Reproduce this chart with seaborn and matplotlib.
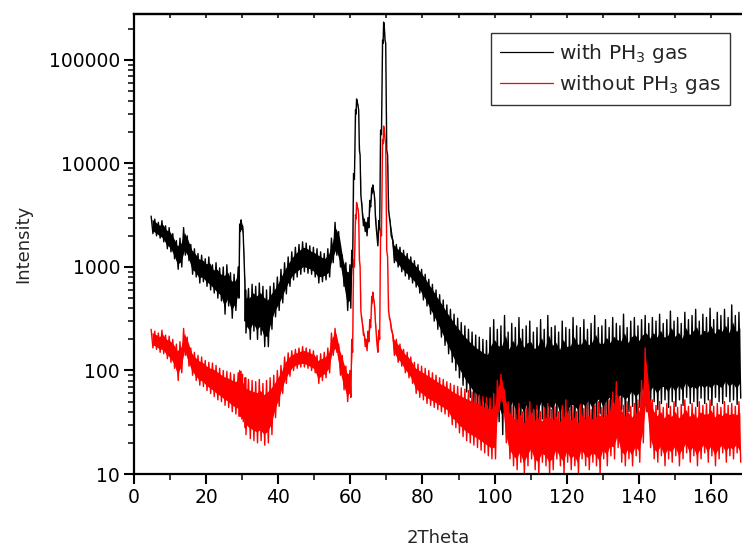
import numpy as np
import pandas as pd
import matplotlib
matplotlib.use("Agg")
import matplotlib.pyplot as plt
import seaborn as sns
from matplotlib.lines import Line2D
from matplotlib.ticker import FixedLocator, LogLocator, FuncFormatter, NullFormatter, MultipleLocator

# ---------------- data ----------------
# 2Theta sample positions (denser around the sharp peaks)
two_theta = (list(range(5, 29))
             + [29.0, 29.4, 29.8, 30.2, 30.8]
             + list(range(31, 61))
             + [60.5, 61.0, 61.5, 61.8, 62.2, 62.6, 63.0, 63.5, 64.0, 64.5, 65.0, 65.5,
                66.0, 66.3, 66.7, 67.0, 67.5, 68.0, 68.5, 69.0, 69.3, 69.7, 70.2, 70.7, 71.2]
             + list(range(72, 169)))

# upper / lower envelope of the noisy intensity, "with PH3 gas"
with_hi = ([3100, 2900, 2700, 2800, 2500, 2400, 2100, 1800, 1900, 2400, 2000, 1650,
            1500, 1350, 1300, 1200, 1250, 1050, 1100, 980, 1000, 1050, 880, 850]
           + [1000, 2600, 2850, 2500, 700]
           + [600, 620, 680, 650, 700, 650, 600, 650, 700, 800, 950, 1100, 1250, 1400, 1550,
              1650, 1750, 1700, 1600, 1550, 1500, 1400, 1350, 1500, 1900, 2700, 2200, 1300, 1100, 1050]
           + [1450, 8000, 33000, 42000, 36000, 13500, 5000, 3200, 2900, 2700, 3000, 4400,
              5800, 6200, 5000, 3200, 2000, 2800, 21000, 155000, 232000, 155000, 13500, 3600, 2600]
           + [1800, 1650, 1550, 1450, 1350, 1250, 1150, 1050, 950, 850, 760, 680, 600, 540,
              480, 430, 390, 350, 320, 290, 270, 250, 235, 220, 210, 200, 195]
           + [260, 310, 250, 270, 340, 235, 285, 260, 325, 250,
              270, 300, 235, 260, 310, 250, 340, 260, 270, 235,
              300, 260, 250, 325, 270, 260, 310, 250, 285, 340,
              260, 270, 310, 260, 325, 285, 270, 350, 260, 300,
              325, 270, 310, 340, 285, 325, 300, 350, 285, 310,
              375, 300, 325, 285, 365, 310, 340, 390, 300, 350,
              325, 400, 310, 365, 340, 390, 325, 430, 340, 365])
with_lo = ([2100, 2000, 1900, 1750, 1500, 1400, 1200, 950, 1000, 1300, 1150, 850,
            800, 700, 720, 650, 600, 560, 500, 470, 350, 420, 320, 380]
           + [500, 2200, 2300, 2000, 300]
           + [230, 200, 240, 200, 220, 170, 170, 250, 330, 380, 450, 550, 650, 750, 800,
              850, 900, 870, 850, 800, 700, 720, 750, 800, 1100, 1300, 1000, 650, 380, 400]
           + [1000, 7000, 30000, 40000, 33000, 12000, 4200, 2500, 2200, 2000, 2400, 3800,
              5200, 5600, 4300, 2600, 1600, 2300, 19000, 145000, 220000, 145000, 12000, 3000, 2000]
           + [1100, 1000, 900, 820, 760, 700, 640, 560, 480, 420, 350, 300, 250, 210,
              175, 145, 120, 100, 85, 72, 62, 55, 48, 44, 40, 37, 34]
           + [30, 26, 32, 24, 30, 28, 35, 25, 30, 27,
              33, 24, 30, 28, 34, 26, 30, 29, 35, 27,
              31, 25, 33, 30, 28, 34, 30, 36, 29, 33,
              38, 30, 35, 40, 32, 38, 42, 35, 40, 45,
              38, 44, 48, 40, 46, 50, 42, 48, 52, 44,
              50, 45, 52, 46, 55, 48, 50, 45, 54, 48,
              52, 46, 55, 50, 48, 56, 50, 52, 47, 54])

# upper / lower envelope of the noisy intensity, "without PH3 gas"
without_hi = ([250, 240, 230, 245, 220, 215, 200, 180, 190, 255, 210, 165,
               150, 140, 135, 125, 120, 118, 112, 105, 100, 98, 95, 92]
              + [95, 100, 98, 92, 85]
              + [85, 82, 80, 78, 82, 75, 80, 85, 90, 100, 112, 135, 148, 155, 160,
                 165, 170, 165, 160, 155, 140, 145, 150, 165, 230, 255, 180, 140, 110, 100]
              + [200, 1170, 3200, 4200, 3600, 1170, 380, 275, 220, 200, 240, 310,
                 520, 570, 450, 300, 180, 245, 2300, 17000, 23000, 17000, 1450, 380, 300]
              + [220, 200, 180, 160, 150, 135, 120, 115, 110, 105, 100, 95, 90, 85, 82, 78,
                 75, 72, 70, 68, 66, 64, 62, 60, 58, 56, 55, 54, 60, 80, 92, 65, 50]
              + [45, 42, 48, 40, 44, 50, 42, 46, 40, 44,
                 48, 42, 45, 40, 46, 52, 42, 45, 40, 47,
                 43, 48, 42, 46, 50, 44, 48, 52, 62, 78,
                 55, 46, 50, 45, 48, 52, 80, 165, 70, 52,
                 46, 50, 44, 48, 45, 50, 44, 47, 52, 45,
                 48, 44, 50, 46, 48, 52, 45, 48, 44, 50,
                 46, 48, 45, 50])
without_lo = ([165, 160, 150, 145, 130, 120, 105, 80, 95, 140, 110, 90,
               80, 72, 70, 64, 60, 56, 52, 50, 46, 44, 40, 38]
              + [36, 36, 34, 32, 28]
              + [24, 22, 21, 20, 21, 19, 20, 24, 35, 45, 60, 75, 88, 100, 105,
                 108, 108, 105, 100, 95, 75, 80, 85, 95, 140, 150, 90, 65, 50, 55]
              + [150, 1000, 2900, 3900, 3200, 1000, 320, 220, 170, 155, 190, 260,
                 450, 500, 380, 250, 150, 200, 2000, 15500, 21500, 15500, 1250, 320, 250]
              + [140, 120, 110, 95, 85, 75, 60, 55, 52, 48, 46, 44, 42, 40, 38, 36,
                 30, 28, 25, 23, 21, 20, 19, 18, 17, 16, 15, 14, 14, 40, 50, 20, 14]
              + [12, 11, 13, 10, 12, 14, 11, 10, 13, 12,
                 10, 11, 14, 12, 10, 13, 11, 12, 10, 14,
                 12, 11, 13, 12, 10, 14, 12, 15, 14, 18,
                 13, 12, 14, 12, 15, 13, 20, 40, 18, 14,
                 13, 15, 12, 14, 13, 15, 12, 14, 16, 13,
                 15, 12, 14, 16, 13, 15, 12, 14, 16, 13,
                 15, 14, 16, 13])

series_labels = ["with PH$_3$ gas", "without PH$_3$ gas"]
series_colors = ["#000000", "#ff0000"]
x_ticks = [0, 20, 40, 60, 80, 100, 120, 140, 160]
y_ticks = [10, 100, 1000, 10000, 100000]

for arr in (with_hi, with_lo, without_hi, without_lo):
    assert len(arr) == len(two_theta), (len(arr), len(two_theta))

# ---------------- style ----------------
sns.set_style("ticks")
plt.rcParams["font.family"] = ["DejaVu Sans"]
plt.rcParams["mathtext.fontset"] = "dejavusans"

fig = plt.figure(figsize=(7.42, 5.47), dpi=100)
ax = fig.add_axes([134 / 742, 73 / 547, 608 / 742, 460 / 547])

# ---------------- draw: dense core of the noise band + max/min trace ----------------
x = np.asarray(two_theta, dtype=float)
gaps = np.diff(x)
half = 0.25 * np.minimum(np.r_[gaps[0], gaps], np.r_[gaps, gaps[-1]])
z = 1.0
for lab, col, hi, lo in [(series_labels[0], series_colors[0], with_hi, with_lo),
                         (series_labels[1], series_colors[1], without_hi, without_lo)]:
    hi = np.asarray(hi, float)
    lo = np.asarray(lo, float)
    core_hi = hi ** 0.82 * lo ** 0.18
    core_lo = lo ** 0.82 * hi ** 0.18
    xs = np.column_stack([x - half, x + half]).ravel()
    ys = np.column_stack([hi, lo]).ravel()
    d = pd.DataFrame({"2Theta": xs, "Intensity": ys})
    ax.fill_between(x, core_lo, core_hi, color=col, linewidth=0, zorder=z)
    sns.lineplot(data=d, x="2Theta", y="Intensity", color=col, estimator=None,
                 sort=False, linewidth=1.0, ax=ax, zorder=z + 0.1)
    z += 0.2

ax.set_yscale("log")
ax.set_xlim(0, 168.6)
ax.set_ylim(10, 2.78e5)

ax.xaxis.set_major_locator(FixedLocator(x_ticks))
ax.xaxis.set_minor_locator(MultipleLocator(10))
ax.yaxis.set_major_locator(FixedLocator(y_ticks))
ax.yaxis.set_minor_locator(LogLocator(base=10, subs=np.arange(2, 10)))
ax.yaxis.set_major_formatter(FuncFormatter(lambda v, p: f"{int(round(v))}"))
ax.yaxis.set_minor_formatter(NullFormatter())

for s in ["left", "bottom", "top"]:
    ax.spines[s].set_linewidth(1.6)
    ax.spines[s].set_color("black")
    ax.spines[s].set_zorder(5)
ax.spines["right"].set_visible(False)

ax.tick_params(axis="both", which="major", direction="out", length=7, width=1.5,
               labelsize=13.5, colors="black", pad=3)
ax.tick_params(axis="both", which="minor", direction="out", length=4, width=1.3)
ax.tick_params(axis="x", which="both", top=False)
ax.tick_params(axis="y", which="both", right=False)

top = ax.secondary_xaxis("top")
top.xaxis.set_major_locator(MultipleLocator(10))
top.tick_params(direction="in", length=3, width=1.3, labeltop=False)
top.spines["top"].set_linewidth(1.6)

ax.set_xlabel("2Theta", fontsize=13, labelpad=16)
ax.set_ylabel("Intensity", fontsize=13, labelpad=12)

handles = [Line2D([0], [0], color=c, lw=0.9) for c in series_colors]
leg = ax.legend(handles, series_labels, loc="upper right",
                bbox_to_anchor=(0.980, 0.9587), frameon=True, fancybox=False,
                edgecolor="black", fontsize=14.5, handlelength=2.6,
                handletextpad=0.3, labelspacing=0.4, borderpad=0.45,
                borderaxespad=0.0)
leg.get_frame().set_linewidth(1.0)
leg.set_zorder(10)

fig.savefig("out.png", dpi=100)
